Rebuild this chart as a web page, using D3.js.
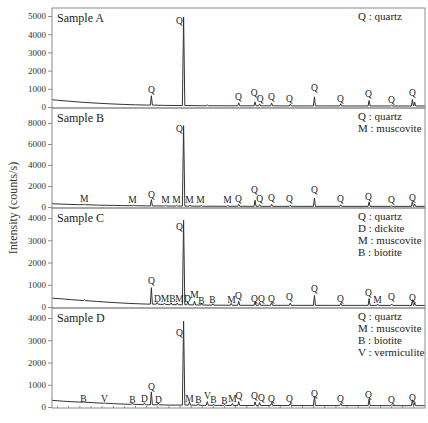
<!DOCTYPE html>
<html>
<head>
<meta charset="utf-8">
<script src="https://cdn.jsdelivr.net/npm/d3@7"></script>
<style>
  body { margin: 0; background: #fff; }
  svg { display: block; }
</style>
</head>
<body>
<svg id="chart" width="428" height="423"></svg>
<script>
// 2-theta range of the scan
const twoTheta = [3, 70];

// background points [2theta, counts]
const bgA = [[3, 400], [4, 370], [6, 320], [8, 270], [10, 230], [12, 195], [14, 165], [16, 140], [18, 120], [20, 105], [23, 90], [26, 80], [30, 70], [35, 65], [45, 60], [55, 58], [70, 55]];
const bgB = [[3, 310], [5, 270], [8, 220], [11, 180], [14, 150], [17, 125], [20, 105], [24, 90], [30, 75], [40, 65], [70, 60]];
const bgC = [[3, 400], [5, 360], [8, 300], [11, 250], [14, 200], [17, 160], [20, 130], [24, 105], [30, 85], [40, 75], [70, 70]];
const bgD = [[3, 300], [5, 260], [8, 220], [11, 185], [14, 150], [17, 120], [20, 100], [24, 85], [30, 72], [40, 65], [70, 60]];

// peaks [2theta, top counts, base counts]
const peaksA = [[20.85, 620, 105], [26.64, 4950, 80], [30.9, 110, 70], [36.54, 230, 65], [39.47, 280, 63], [40.3, 170, 63], [42.45, 220, 62], [45.8, 150, 60], [50.14, 560, 59], [54.87, 180, 58], [59.96, 360, 57], [64.03, 110, 56], [67.74, 420, 55], [68.15, 260, 55]];
const peaksB = [[8.85, 260, 220], [17.7, 180, 125], [20.85, 700, 105], [23.4, 150, 95], [25.4, 170, 90], [26.64, 7750, 88], [27.8, 180, 85], [29.8, 160, 80], [34.6, 140, 70], [36.54, 260, 68], [39.47, 650, 66], [40.3, 220, 65], [42.45, 260, 65], [45.8, 170, 64], [50.14, 850, 63], [54.87, 220, 62], [59.96, 480, 61], [64.03, 120, 60], [67.74, 520, 60], [68.15, 280, 60]];
const peaksC = [[8.8, 330, 290], [20.85, 870, 130], [21.9, 200, 125], [23.2, 180, 115], [24.4, 190, 108], [25.5, 180, 103], [26.64, 3900, 100], [27.4, 230, 97], [28.6, 260, 93], [29.9, 170, 88], [31.9, 150, 83], [35.2, 160, 78], [36.54, 260, 77], [39.47, 220, 76], [40.3, 200, 76], [42.45, 200, 75], [45.8, 170, 75], [50.14, 520, 74], [54.87, 170, 73], [59.96, 380, 72], [61.5, 130, 72], [64.03, 130, 71], [67.74, 330, 70], [68.15, 200, 70]];
const peaksD = [[8.7, 240, 215], [12.4, 180, 170], [17.4, 160, 125], [19.6, 190, 105], [20.85, 680, 102], [22.1, 190, 97], [26.64, 3850, 87], [27.7, 230, 85], [29.3, 150, 80], [30.9, 240, 77], [32.0, 130, 75], [34.0, 120, 70], [35.4, 160, 69], [36.54, 240, 68], [39.47, 230, 67], [40.3, 200, 66], [42.45, 200, 66], [45.8, 160, 65], [50.14, 470, 64], [54.87, 160, 63], [59.96, 370, 62], [64.03, 120, 61], [67.74, 320, 60], [68.15, 190, 60]];

// peak labels [text, 2theta, counts]
const labelsA = [['Q', 20.85, 934], ['Q', 25.9, 4725], ['Q', 36.5, 550], ['Q', 39.3, 800], ['Q', 40.4, 440], ['Q', 42.4, 550], ['Q', 45.65, 440], ['Q', 50.14, 1040], ['Q', 54.8, 440], ['Q', 59.84, 714], ['Q', 63.98, 385], ['Q', 67.75, 770]];
const labelsB = [['M', 8.81, 760], ['M', 17.44, 667], ['Q', 20.85, 1140], ['M', 23.37, 667], ['M', 25.34, 667], ['Q', 25.88, 7430], ['M', 27.68, 667], ['M', 29.66, 667], ['M', 34.5, 667], ['Q', 36.5, 760], ['Q', 39.36, 1620], ['Q', 40.3, 760], ['Q', 42.4, 860], ['Q', 45.65, 760], ['Q', 50.14, 1620], ['Q', 54.8, 760], ['Q', 59.84, 950], ['Q', 63.98, 667], ['Q', 67.75, 860]];
const labelsC = [['Q', 20.85, 1170], ['Q', 25.88, 3600], ['D', 21.93, 360], ['M', 23.28, 360], ['B', 24.62, 360], ['M', 25.88, 360], ['D', 27.32, 360], ['M', 28.58, 540], ['B', 29.83, 270], ['B', 31.81, 315], ['M', 35.23, 315], ['Q', 36.5, 494], ['Q', 39.36, 360], ['Q', 40.6, 360], ['Q', 42.4, 360], ['Q', 45.65, 450], ['Q', 50.14, 810], ['Q', 54.8, 360], ['Q', 59.84, 630], ['M', 61.46, 315], ['Q', 63.98, 450], ['Q', 67.75, 400]];
const labelsD = [['B', 8.63, 360], ['V', 12.4, 360], ['B', 17.44, 315], ['D', 19.59, 360], ['Q', 20.85, 900], ['D', 22.11, 315], ['Q', 25.88, 3330], ['M', 27.68, 360], ['B', 29.3, 315], ['V', 30.91, 494], ['B', 31.99, 315], ['B', 33.97, 270], ['M', 35.41, 360], ['Q', 36.6, 494], ['Q', 39.36, 494], ['Q', 40.6, 400], ['Q', 42.4, 360], ['Q', 45.65, 360], ['Q', 50.14, 584], ['Q', 54.8, 360], ['Q', 59.84, 540], ['Q', 63.98, 315], ['Q', 67.75, 400]];

const legendA = ['Q : quartz'];
const legendB = ['Q : quartz', 'M : muscovite'];
const legendC = ['Q : quartz', 'D : dickite', 'M : muscovite', 'B : biotite'];
const legendD = ['Q : quartz', 'M : muscovite', 'B : biotite', 'V : vermiculite'];

const ticksA = [0, 1000, 2000, 3000, 4000, 5000];
const ticksB = [0, 2000, 4000, 6000, 8000];
const ticksC = [0, 1000, 2000, 3000, 4000];
const ticksD = [0, 1000, 2000, 3000, 4000];

const samples = [
  { name: 'Sample A', bg: bgA, peaks: peaksA, labels: labelsA, legend: legendA, ticks: ticksA, domain: [-55, 5440] },
  { name: 'Sample B', bg: bgB, peaks: peaksB, labels: labelsB, legend: legendB, ticks: ticksB, domain: [-95, 9430] },
  { name: 'Sample C', bg: bgC, peaks: peaksC, labels: labelsC, legend: legendC, ticks: ticksC, domain: [-45, 4450] },
  { name: 'Sample D', bg: bgD, peaks: peaksD, labels: labelsD, legend: legendD, ticks: ticksD, domain: [-45, 4450] },
];

const plotLeft = 52;
const plotRight = 425;
const plotTop = 8;
const panelHeight = 100;
const serif = 'Liberation Serif, DejaVu Serif, serif';
const frameColor = '#8c8c8c';
const lineColor = '#333';

const svg = d3.select('#chart').style('font-family', serif);
const x = d3.scaleLinear().domain(twoTheta).range([plotLeft, plotRight]);

samples.forEach(function(s, i) {
  let y0 = plotTop + i * panelHeight;
  let y = d3.scaleLinear().domain(s.domain).range([y0 + panelHeight, y0]);
  let g = svg.append('g');

  // build the pattern: background points plus a sharp triangle per peak
  let points = s.bg.slice();
  s.peaks.forEach(function(p) {
    let w = p[1] > 2000 ? 0.22 : 0.18;
    points.push([p[0] - w, p[2]], [p[0], p[1]], [p[0] + w, p[2]]);
  });
  points.sort(function(a, b) {
    return a[0] - b[0];
  });

  let lineFunction = d3
    .line()
    .x(function(d) {
      return x(d[0]);
    })
    .y(function(d) {
      return y(d[1]);
    });

  g.append('path')
    .attr('d', lineFunction(points))
    .attr('fill', 'none')
    .attr('stroke', lineColor)
    .attr('stroke-width', 1)
    .attr('stroke-linejoin', 'round');

  g.append('rect')
    .attr('x', plotLeft)
    .attr('y', y0)
    .attr('width', plotRight - plotLeft)
    .attr('height', panelHeight)
    .attr('fill', 'none')
    .attr('stroke', frameColor)
    .attr('stroke-width', 1);

  let axis = g.append('g')
    .attr('transform', 'translate(' + plotLeft + ',0)')
    .call(d3.axisLeft(y).tickValues(s.ticks).tickSize(4).tickPadding(2).tickFormat(d3.format('d')));
  axis.attr('font-family', null).attr('font-size', 9);
  axis.select('.domain').remove();
  axis.selectAll('line').attr('stroke', frameColor);
  axis.selectAll('text').attr('fill', '#333');

  g.append('text')
    .attr('x', 57)
    .attr('y', y0 + 10)
    .attr('dy', '0.35em')
    .attr('font-size', 12)
    .attr('fill', '#222')
    .text(s.name);

  g.selectAll('.legend')
    .data(s.legend)
    .enter()
    .append('text')
    .attr('x', 358)
    .attr('y', function(d, j) {
      return y0 + 8 + j * 12;
    })
    .attr('dy', '0.35em')
    .attr('font-size', 11)
    .attr('fill', '#222')
    .text(function(d) {
      return d;
    });

  g.selectAll('.peak-label')
    .data(s.labels)
    .enter()
    .append('text')
    .attr('x', function(d) {
      return x(d[1]);
    })
    .attr('y', function(d) {
      return y(d[2]);
    })
    .attr('dy', '0.35em')
    .attr('text-anchor', 'middle')
    .attr('font-size', 9.5)
    .attr('fill', '#222')
    .text(function(d) {
      return d[0];
    });
});

// small ticks along the bottom axis
svg.append('g')
  .selectAll('line')
  .data(d3.range(4, 70, 2))
  .enter()
  .append('line')
  .attr('x1', function(d) { return x(d); })
  .attr('x2', function(d) { return x(d); })
  .attr('y1', plotTop + 4 * panelHeight)
  .attr('y2', plotTop + 4 * panelHeight - 2)
  .attr('stroke', frameColor);

svg.append('text')
  .attr('transform', 'translate(13,' + (plotTop + 2 * panelHeight) + ') rotate(-90)')
  .attr('text-anchor', 'middle')
  .attr('dy', '0.35em')
  .attr('font-size', 12)
  .attr('fill', '#333')
  .text('Intensity (counts/s)');
</script>
</body>
</html>
